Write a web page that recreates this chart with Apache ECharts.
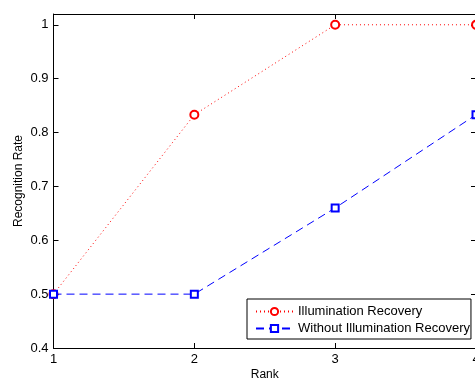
<!DOCTYPE html>
<html>
<head>
<meta charset="utf-8">
<script src="https://cdn.jsdelivr.net/npm/echarts@6/dist/echarts.min.js"></script>
<style>html,body{margin:0;padding:0;background:#fff;}#c{width:475px;height:379px;}</style>
</head>
<body>
<div id="c"></div>
<script>
const ranks = [1, 2, 3, 4];
const withRecovery = [0.5, 0.833, 1, 1];
const withoutRecovery = [0.5, 0.5, 0.66, 0.833];
const seriesNames = ['Illumination Recovery', 'Without Illumination Recovery'];
const xLabel = 'Rank';
const yLabel = 'Recognition Rate';

const font = 'Liberation Sans, Arial, Helvetica, sans-serif';
const chart = echarts.init(document.getElementById('c'), null, {renderer: 'canvas'});
const axisCommon = {
  axisLine: {show: true, onZero: false, lineStyle: {color: '#000', width: 1}},
  axisTick: {show: true, inside: true, length: 5, lineStyle: {color: '#000'}},
  splitLine: {show: false}
};
chart.setOption({
  backgroundColor: '#fff',
  animation: false,
  grid: {left: 53.5, top: 14, width: 422.5, height: 334, containLabel: false, outerBoundsMode: 'none'},
  legend: {
    orient: 'vertical', left: 247, top: 299,
    backgroundColor: '#fff', borderColor: '#000', borderWidth: 1,
    padding: [6, 1, 4, 8], itemWidth: 37, itemHeight: 9, itemGap: 4,
    textStyle: {fontFamily: font, fontSize: 13, color: '#000'},
    data: seriesNames
  },
  xAxis: [
    Object.assign({type: 'value', min: 1, max: 4, interval: 1, position: 'bottom',
      name: xLabel, nameLocation: 'middle', nameGap: 21, nameMoveOverlap: false,
      nameTextStyle: {fontFamily: font, fontSize: 12, color: '#000', verticalAlign: 'top'},
      axisLabel: {fontFamily: font, fontSize: 13, color: '#000', margin: 5}}, axisCommon),
    Object.assign({type: 'value', min: 1, max: 4, interval: 1, position: 'top',
      axisLabel: {show: false}}, axisCommon)
  ],
  yAxis: [
    Object.assign({type: 'value', min: 0.4, max: 1.02, interval: 0.1, position: 'left',
      name: yLabel, nameLocation: 'middle', nameGap: 29, nameRotate: 90, nameMoveOverlap: false,
      nameTextStyle: {fontFamily: font, fontSize: 12, color: '#000'},
      axisLabel: {fontFamily: font, fontSize: 13, color: '#000', margin: 5, showMaxLabel: false}}, axisCommon),
    Object.assign({type: 'value', min: 0.4, max: 1.02, interval: 0.1, position: 'right',
      axisLabel: {show: false}}, axisCommon)
  ],
  series: [
    {
      name: seriesNames[0], type: 'line',
      data: ranks.map((r, i) => [r, withRecovery[i]]),
      symbol: 'emptyCircle', symbolSize: 8, showAllSymbol: true,
      itemStyle: {color: '#ff0000', borderColor: '#ff0000', borderWidth: 1},
      lineStyle: {color: '#ff0000', width: 1, type: [1, 3]},
      z: 2
    },
    {
      name: seriesNames[1], type: 'line',
      data: ranks.map((r, i) => [r, withoutRecovery[i]]),
      symbol: 'emptyRect', symbolSize: 7, showAllSymbol: true,
      itemStyle: {color: '#0000ff', borderColor: '#0000ff', borderWidth: 1},
      lineStyle: {color: '#0000ff', width: 1, type: [8, 5]},
      z: 3
    }
  ]
});
</script>
</body>
</html>
